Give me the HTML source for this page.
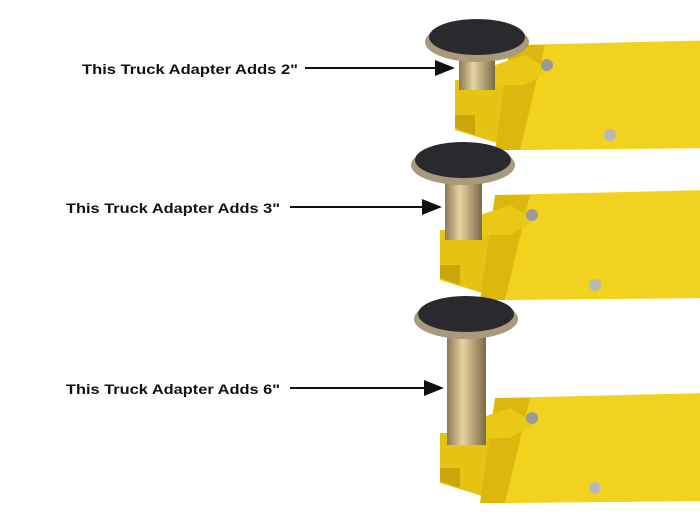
<!DOCTYPE html>
<html><head><style>
body{margin:0;background:#fff;width:700px;height:525px;overflow:hidden}
</style></head><body>
<svg width="700" height="525" viewBox="0 0 700 525" xmlns="http://www.w3.org/2000/svg">
<defs>
<marker id="a" markerWidth="10" markerHeight="8" refX="9" refY="4" orient="auto"><path d="M0,0 L10,4 L0,8 Z" fill="#111"/></marker>
<linearGradient id="post" x1="0" x2="1"><stop offset="0" stop-color="#8a7a55"/><stop offset=".4" stop-color="#e6d3a0"/><stop offset="1" stop-color="#7a6a45"/></linearGradient>
<g id="arm">
<polygon points="60,5 270,0 270,108 65,110" fill="#f1d21e"/>
<polygon points="0,40 65,40 65,110 0,90" fill="#e6c414"/>
<polygon points="0,75 20,75 20,95 0,88" fill="#caa60a"/>
<polygon points="55,5 90,5 65,110 40,110" fill="#dcb80e"/>
<polygon points="40,25 70,15 95,30 70,45 40,45" fill="#e9c915"/>
<circle cx="92" cy="25" r="6" fill="#9a9a9a"/>
<circle cx="155" cy="95" r="6" fill="#b8b8b8"/>
</g>
</defs>
<g font-family="Liberation Sans, sans-serif" font-weight="bold" font-size="14" fill="#111">
<text x="82" y="74" textLength="216" lengthAdjust="spacingAndGlyphs">This Truck Adapter Adds 2"</text>
<text x="66" y="213" textLength="214" lengthAdjust="spacingAndGlyphs">This Truck Adapter Adds 3"</text>
<text x="66" y="394" textLength="214" lengthAdjust="spacingAndGlyphs">This Truck Adapter Adds 6"</text>
</g>
<g stroke="#111" stroke-width="2" marker-end="url(#a)">
<line x1="305" y1="68" x2="453" y2="68"/>
<line x1="290" y1="207" x2="440" y2="207"/>
<line x1="290" y1="388" x2="442" y2="388"/>
</g>
<use href="#arm" x="455" y="40"/>
<rect x="459" y="52" width="36" height="38" fill="url(#post)"/>
<ellipse cx="477" cy="42" rx="52" ry="20" fill="#a89a7a"/>
<ellipse cx="477" cy="37" rx="48" ry="18" fill="#2a2a2e"/>
<use href="#arm" x="440" y="190"/>
<rect x="445" y="176" width="37" height="64" fill="url(#post)"/>
<ellipse cx="463" cy="165" rx="52" ry="20" fill="#a89a7a"/>
<ellipse cx="463" cy="160" rx="48" ry="18" fill="#2a2a2e"/>
<use href="#arm" x="440" y="393"/>
<rect x="447" y="330" width="39" height="115" fill="url(#post)"/>
<ellipse cx="466" cy="319" rx="52" ry="20" fill="#a89a7a"/>
<ellipse cx="466" cy="314" rx="48" ry="18" fill="#2a2a2e"/>
</svg>
</body></html>
